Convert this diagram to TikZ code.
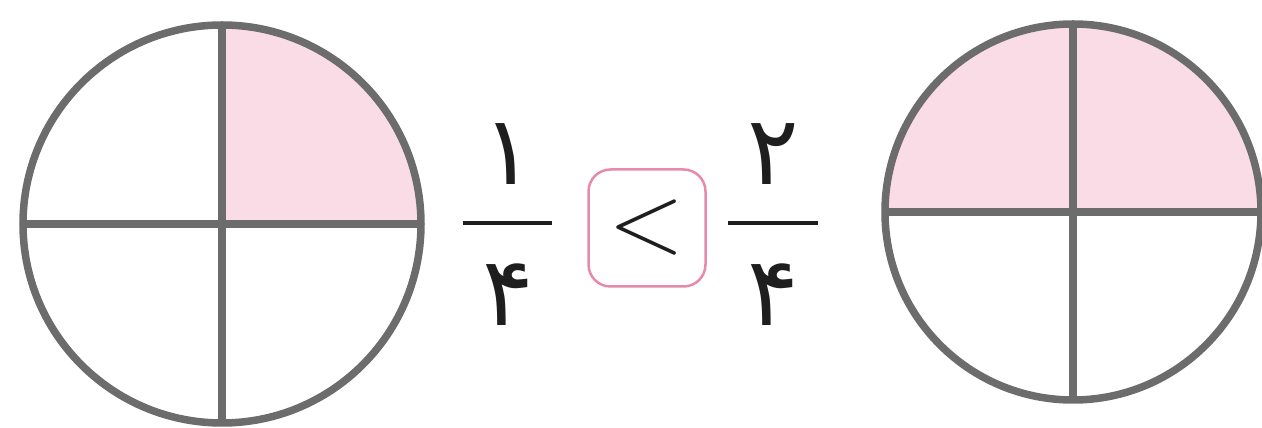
\documentclass[tikz,border=0pt]{standalone}
\usepackage{fontspec}
\usetikzlibrary{calc}
\newfontfamily\arabicfont[Script=Arabic]{DejaVu Sans}
\definecolor{rim}{HTML}{6C6C6C}
\definecolor{pinkfill}{HTML}{FADCE7}
\definecolor{boxpink}{HTML}{E68AAA}
\definecolor{ink}{HTML}{1E1E1E}
\tikzset{
  rimline/.style={draw=rim, line width=7.5pt},
  digit/.style={inner sep=0pt, text=ink, font=\arabicfont\fontsize{96}{100}\selectfont},
  fracbar/.style={draw=ink, line width=3.5pt},
  cmpbox/.style={draw=boxpink, line width=2.5pt, rounded corners=22pt, minimum width=117pt, minimum height=117pt, inner sep=0pt, text=ink, font=\fontsize{100}{104}\selectfont}
}
\begin{document}
\begin{tikzpicture}[x=1pt,y=1pt]
\useasboundingbox (0,0) rectangle (1262,428);
% left circle: 1/4 shaded
\coordinate (cl) at (222,204);
\fill[pinkfill] (cl) -- ++(199,0) arc[start angle=0,end angle=90,radius=199] -- cycle;
\draw[rimline] (cl) circle[radius=199];
\draw[rimline] ($(cl)+(-199,0)$) -- ($(cl)+(199,0)$);
\draw[rimline] ($(cl)+(0,-199)$) -- ($(cl)+(0,199)$);
% right circle: 2/4 shaded
\coordinate (cr) at (1073,216);
\fill[pinkfill] (cr) -- ++(188,0) arc[start angle=0,end angle=180,radius=188] -- cycle;
\draw[rimline] (cr) circle[radius=188];
\draw[rimline] ($(cr)+(-188,0)$) -- ($(cr)+(188,0)$);
\draw[rimline] ($(cr)+(0,-188)$) -- ($(cr)+(0,188)$);
% left fraction
\node[digit] (n1) at (508,274) {۱};
\node[digit] (d1) at (508,133) {۴};
\coordinate (b1l) at (463,205);
\coordinate (b1r) at (552,205);
\draw[fracbar] (b1l) -- (b1r);
% comparison box
\node[cmpbox] (cmp) at (647,200) {<};
% right fraction
\node[digit] (n2) at (773,274) {۲};
\node[digit] (d2) at (773,133) {۴};
\coordinate (b2l) at (728,205);
\coordinate (b2r) at (818,205);
\draw[fracbar] (b2l) -- (b2r);
\end{tikzpicture}
\end{document}
